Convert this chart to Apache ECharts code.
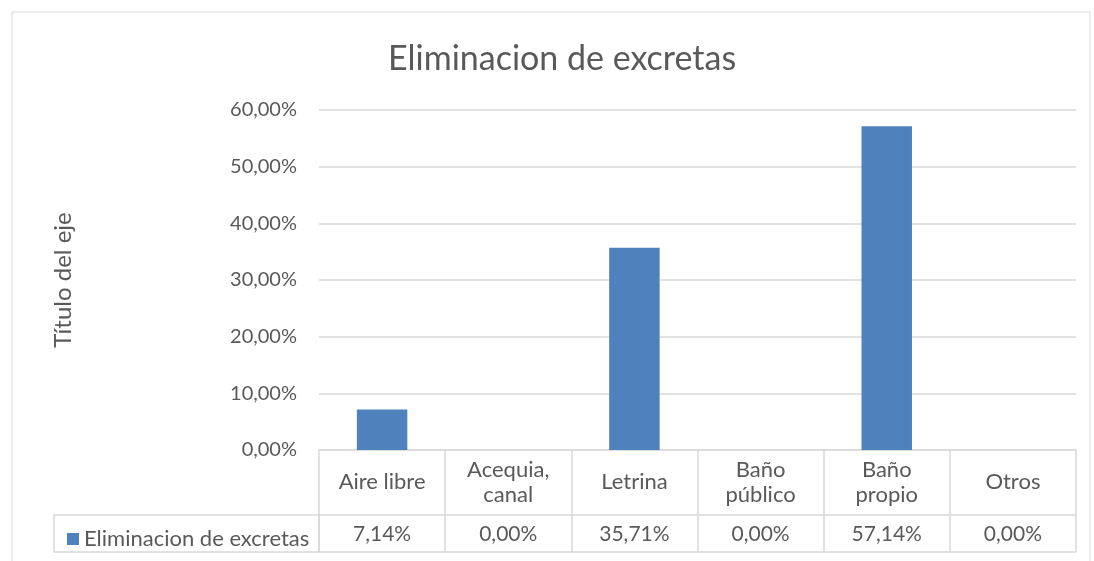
<!DOCTYPE html>
<html>
<head>
<meta charset="utf-8">
<script src="https://cdn.jsdelivr.net/npm/echarts@6/dist/echarts.min.js"></script>
<style>
  html, body { margin: 0; padding: 0; background: #fff; }
  #main { width: 1094px; height: 561px; }
</style>
</head>
<body>
<div id="main"></div>
<script>
var categories = ['Aire libre', 'Acequia,\ncanal', 'Letrina', 'Baño\npúblico', 'Baño\npropio', 'Otros'];
var values = [7.14, 0, 35.71, 0, 57.14, 0];
var seriesName = 'Eliminacion de excretas';
var yTicks = { min: 0, max: 60, interval: 10 };

var fontName = 'Lato';
var textColor = '#595959';
var lineColor = '#d9d9d9';

function pct(v) {
	return v.toFixed(2).replace('.', ',') + '%';
}

var myChart = echarts.init(document.getElementById('main'));
var option = {
	backgroundColor: '#ffffff',
	textStyle: { fontFamily: fontName },

	title: {
		text: 'Eliminacion de excretas',
		left: 383,
		top: 37,
		textStyle: {
			color: textColor,
			fontSize: 34,
			fontWeight: 'normal',
			fontFamily: fontName
		}
	},

	legend: {
		left: 62,
		top: 523,
		itemWidth: 12,
		itemHeight: 12,
		itemGap: 6,
		icon: 'rect',
		textStyle: { color: textColor, fontSize: 22, fontFamily: fontName },
		data: [seriesName]
	},

	grid: {
		left: 319,
		right: 18,
		top: 110,
		bottom: 111
	},

	graphic: [{
		type: 'rect',
		shape: { x: 12, y: 12, width: 1078, height: 570 },
		style: { fill: 'none', stroke: lineColor, lineWidth: 1 },
		silent: true
	}, {
		type: 'rect',
		shape: { x: 54, y: 515, width: 265, height: 37 },
		style: { fill: 'none', stroke: lineColor, lineWidth: 1.5 },
		silent: true
	}],

	xAxis: [{
		type: 'category',
		data: categories,
		position: 'bottom',
		axisLine: { lineStyle: { color: lineColor, width: 1.5 } },
		axisTick: { show: true, interval: 0, length: 102, lineStyle: { color: lineColor, width: 1.5 } },
		axisLabel: {
			interval: 0,
			margin: 32,
			verticalAlign: 'middle',
			color: textColor,
			fontSize: 22,
			lineHeight: 25,
			fontFamily: fontName
		}
	}, {
		type: 'category',
		data: values.map(pct),
		position: 'bottom',
		offset: 65,
		axisLine: { lineStyle: { color: lineColor, width: 1.5 } },
		axisTick: { show: false },
		axisLabel: {
			interval: 0,
			margin: 19,
			verticalAlign: 'middle',
			color: textColor,
			fontSize: 21,
			fontFamily: fontName
		}
	}, {
		type: 'category',
		data: categories,
		position: 'bottom',
		offset: 102,
		axisLine: { lineStyle: { color: lineColor, width: 1.5 } },
		axisTick: { show: false },
		axisLabel: { show: false }
	}],

	yAxis: {
		type: 'value',
		min: yTicks.min,
		max: yTicks.max,
		interval: yTicks.interval,
		name: 'Título del eje',
		nameLocation: 'middle',
		nameGap: 244,
		nameRotate: 90,
		nameTextStyle: { color: textColor, fontSize: 24, fontFamily: fontName },
		axisLine: { show: false },
		axisTick: { show: false },
		axisLabel: {
			margin: 22,
			color: textColor,
			fontSize: 20,
			fontFamily: fontName,
			formatter: function(v) { return pct(v); }
		},
		splitLine: { lineStyle: { color: lineColor, width: 1.5 } }
	},

	series: [{
		name: seriesName,
		type: 'bar',
		xAxisIndex: 0,
		data: values,
		barWidth: '40%',
		itemStyle: { color: '#4f81bd' },
		animation: false
	}]
};

myChart.setOption(option);
</script>
</body>
</html>
